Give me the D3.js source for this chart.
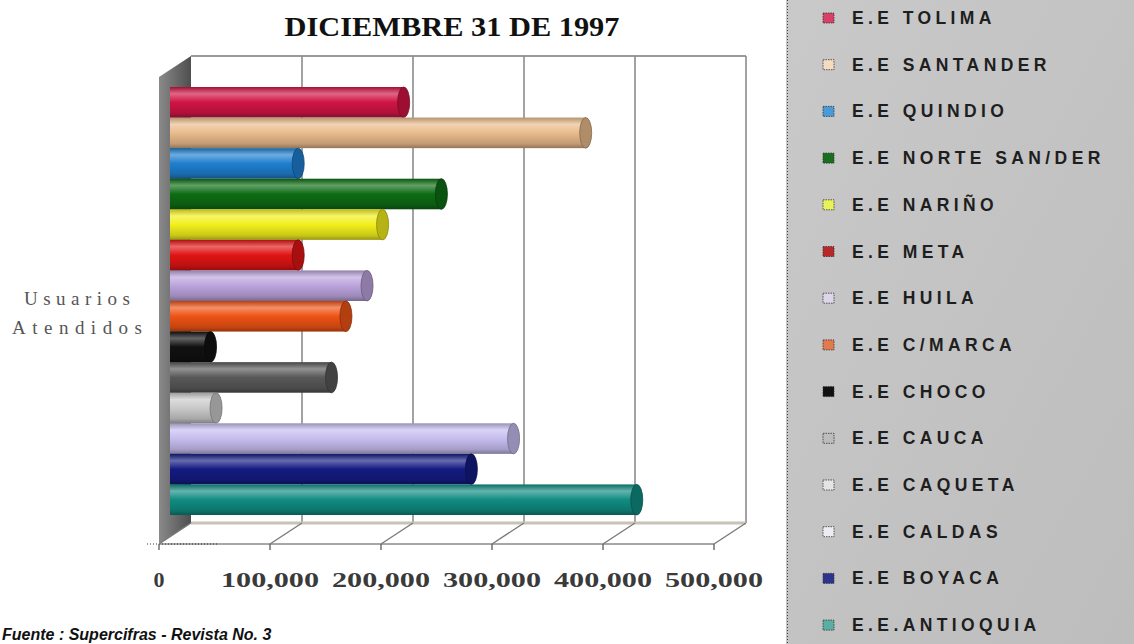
<!DOCTYPE html>
<html>
<head>
<meta charset="utf-8">
<script src="https://cdn.jsdelivr.net/npm/d3@7"></script>
<style>
    body { margin: 0; background: #fff; }
    svg { display: block; }
</style>
</head>
<body>
<svg id="chart" width="1134" height="644"></svg>
<script>
// values (usuarios atendidos al 31/12/1997)
const categories = ['E.E TOLIMA', 'E.E SANTANDER', 'E.E QUINDIO', 'E.E NORTE SAN/DER', 'E.E NARIÑO',
    'E.E META', 'E.E HUILA', 'E.E C/MARCA', 'E.E CHOCO', 'E.E CAUCA', 'E.E CAQUETA',
    'E.E CALDAS', 'E.E BOYACA', 'E.E.ANTIOQUIA'];
const usuarios = [206000, 370000, 111000, 240000, 187000, 111000, 173000, 154000,
    32000, 141000, 37000, 305000, 267000, 416000];
const tickValues = [0, 100000, 200000, 300000, 400000, 500000];
const axisTitle = ['Usuarios', 'Atendidos'];
const chartTitle = 'DICIEMBRE 31 DE 1997';
const sourceNote = 'Fuente : Supercifras - Revista No. 3';

const barColors = ['#d01444', '#e9bb8c', '#1f7fcf', '#0d6d14', '#f2ef1c', '#e01414', '#bba3dc',
    '#ee5214', '#111111', '#585858', '#c9c9c9', '#c6bdef', '#141b82', '#108c82'];
const swatchColors = ['#d8406a', '#f3dcc0', '#4a9ad8', '#1a6e20', '#e8f25a', '#b82828', '#ddd6ea',
    '#e27a50', '#111111', '#bcbcbc', '#e4e4e4', '#ececf2', '#2c3490', '#5aaea4'];

let CylinderBarChart = function ({
                                     svg,
                                     data = [],
                                     ticks = []
                                 }) {
    let master = {};
    // front plane origin + 3d depth offset
    const front0 = 159, floorY = 544, backTop = 56;
    const depth = {dx: 32, dy: -21};
    const x = d3.scaleLinear().domain([0, 500000]).range([0, 555]);
    const y = d3.scaleBand().domain(data.map(d => d.name)).range([87, 515]).paddingInner(0);
    const barX0 = front0 + depth.dx / 2;

    master.draw = () => {
        const defs = svg.append('defs');
        const g = svg.append('g').attr('class', 'plot');

        // left side wall
        const wallGrad = defs.append('linearGradient').attr('id', 'wallGrad')
            .attr('x1', 0).attr('x2', 1).attr('y1', 0).attr('y2', 0);
        wallGrad.append('stop').attr('offset', '0%').attr('stop-color', '#8a8a8a');
        wallGrad.append('stop').attr('offset', '100%').attr('stop-color', '#4e4e4e');
        g.append('path')
            .attr('d', `M${front0},${backTop - depth.dy}L${front0 + depth.dx},${backTop}L${front0 + depth.dx},${floorY + depth.dy}L${front0},${floorY}Z`)
            .attr('fill', 'url(#wallGrad)');

        // back wall grid
        g.append('line')
            .attr('x1', front0 + depth.dx).attr('x2', front0 + depth.dx + x(500000))
            .attr('y1', backTop).attr('y2', backTop)
            .attr('stroke', '#9a9a9a').attr('stroke-width', 2);
        g.selectAll('line.grid')
            .data(ticks.slice(1))
            .join('line')
            .attr('class', 'grid')
            .attr('x1', d => front0 + depth.dx + x(d))
            .attr('x2', d => front0 + depth.dx + x(d))
            .attr('y1', backTop).attr('y2', floorY + depth.dy)
            .attr('stroke', '#8c8c8c').attr('stroke-width', 1.6);

        // floor
        g.append('line')
            .attr('x1', front0 + depth.dx).attr('x2', front0 + depth.dx + x(500000))
            .attr('y1', floorY + depth.dy).attr('y2', floorY + depth.dy)
            .attr('stroke', '#c8c2b8').attr('stroke-width', 3);
        g.append('line')
            .attr('x1', front0).attr('x2', front0 + x(500000))
            .attr('y1', floorY).attr('y2', floorY)
            .attr('stroke', '#8a8a8a').attr('stroke-width', 1.6);
        g.append('line')
            .attr('x1', front0 - 12).attr('x2', front0 + 60)
            .attr('y1', floorY).attr('y2', floorY)
            .attr('stroke', '#333').attr('stroke-dasharray', '1,2');
        g.selectAll('line.floor')
            .data(ticks)
            .join('line')
            .attr('class', 'floor')
            .attr('x1', d => front0 + x(d))
            .attr('x2', d => front0 + depth.dx + x(d))
            .attr('y1', floorY).attr('y2', floorY + depth.dy)
            .attr('stroke', '#7a7a7a').attr('stroke-width', 1.4);
        g.selectAll('line.tick')
            .data(ticks)
            .join('line')
            .attr('class', 'tick')
            .attr('x1', d => front0 + x(d))
            .attr('x2', d => front0 + x(d))
            .attr('y1', floorY).attr('y2', floorY + 6)
            .attr('stroke', '#666').attr('stroke-width', 1.4);

        // cylinders
        const cell = g.selectAll('g.bar')
            .data(data)
            .join('g')
            .attr('class', 'bar');
        cell.each(function (d, i) {
            const c = d3.color(d.color);
            const hi = d3.interpolateRgb(d.color, '#ffffff')(0.35);
            const gr = defs.append('linearGradient').attr('id', 'cyl' + i)
                .attr('x1', 0).attr('x2', 0).attr('y1', 0).attr('y2', 1);
            gr.append('stop').attr('offset', '0%').attr('stop-color', c.darker(0.7));
            gr.append('stop').attr('offset', '22%').attr('stop-color', hi);
            gr.append('stop').attr('offset', '50%').attr('stop-color', d.color);
            gr.append('stop').attr('offset', '85%').attr('stop-color', c.darker(0.5));
            gr.append('stop').attr('offset', '100%').attr('stop-color', c.darker(1.3));
        });
        const bh = y.bandwidth();
        cell.append('rect')
            .attr('x', barX0 - 5)
            .attr('y', d => y(d.name))
            .attr('width', d => x(d.value) + 5)
            .attr('height', bh)
            .attr('fill', (d, i) => `url(#cyl${i})`);
        cell.append('ellipse')
            .attr('cx', d => barX0 + x(d.value))
            .attr('cy', d => y(d.name) + bh / 2)
            .attr('rx', 6)
            .attr('ry', bh / 2)
            .attr('fill', d => d3.color(d.color).darker(0.8))
            .attr('stroke', d => d3.color(d.color).darker(1.6))
            .attr('stroke-width', 0.8);

        // tick labels
        svg.append('g').attr('class', 'xlabels')
            .selectAll('text')
            .data(ticks)
            .join('text')
            .attr('x', d => front0 + x(d))
            .attr('y', 587)
            .attr('text-anchor', 'middle')
            .attr('font-family', 'Liberation Serif, Times New Roman, serif')
            .attr('font-weight', 'bold')
            .attr('font-size', 22)
            .attr('fill', '#3a3a3a')
            .attr('textLength', d => d === 0 ? null : 98)
            .attr('lengthAdjust', 'spacingAndGlyphs')
            .text(d => d3.format(',')(d));
    };
    return master;
};

const svg = d3.select('#chart');
const rows = categories.map((name, i) => ({name, value: usuarios[i], color: barColors[i]}));

// title
svg.append('text')
    .attr('x', 452).attr('y', 36)
    .attr('text-anchor', 'middle')
    .attr('font-family', 'Liberation Serif, Times New Roman, serif')
    .attr('font-weight', 'bold')
    .attr('font-size', 28)
    .attr('textLength', 335)
    .attr('lengthAdjust', 'spacingAndGlyphs')
    .attr('fill', '#111')
    .text(chartTitle);

// y axis title
svg.append('g').selectAll('text')
    .data(axisTitle)
    .join('text')
    .attr('x', 77)
    .attr('y', (d, i) => 305 + i * 29)
    .attr('text-anchor', 'middle')
    .attr('font-family', 'Liberation Serif, Times New Roman, serif')
    .attr('font-size', 19)
    .attr('fill', '#555')
    .attr('textLength', (d, i) => i ? 130 : 106)
    .attr('lengthAdjust', 'spacing')
    .text(d => d);

CylinderBarChart({svg, data: rows, ticks: tickValues}).draw();

// legend panel
const legGrad = svg.append('defs').append('linearGradient').attr('id', 'legGrad')
    .attr('x1', 0).attr('x2', 1).attr('y1', 0).attr('y2', 1);
legGrad.append('stop').attr('offset', '0%').attr('stop-color', '#c9c9c9');
legGrad.append('stop').attr('offset', '100%').attr('stop-color', '#bdbdbd');
const legend = svg.append('g').attr('class', 'legend');
legend.append('rect')
    .attr('x', 786).attr('y', 0).attr('width', 348).attr('height', 644)
    .attr('fill', 'url(#legGrad)');
legend.append('line')
    .attr('x1', 787.5).attr('x2', 787.5).attr('y1', 0).attr('y2', 644)
    .attr('stroke', '#444').attr('stroke-dasharray', '1,2');
const item = legend.selectAll('g.item')
    .data(categories)
    .join('g')
    .attr('class', 'item')
    .attr('transform', (d, i) => `translate(0,${18 + i * 46.7})`);
item.append('rect')
    .attr('x', 823).attr('y', -5).attr('width', 11).attr('height', 10)
    .attr('fill', (d, i) => swatchColors[i])
    .attr('stroke', '#333').attr('stroke-width', 0.8).attr('stroke-dasharray', '1.5,1');
item.append('text')
    .attr('x', 852).attr('y', 6)
    .attr('font-family', 'Liberation Sans, Arial, sans-serif')
    .attr('font-weight', 'bold')
    .attr('font-size', 17.5)
    .attr('letter-spacing', 4.4)
    .attr('fill', '#1e1e1e')
    .text(d => d);

// source note at the page bottom
svg.append('text')
    .attr('x', 2).attr('y', 640)
    .attr('font-family', 'Liberation Sans, Arial, sans-serif')
    .attr('font-weight', 'bold')
    .attr('font-style', 'italic')
    .attr('font-size', 16)
    .attr('fill', '#111')
    .text(sourceNote);
</script>
</body>
</html>
